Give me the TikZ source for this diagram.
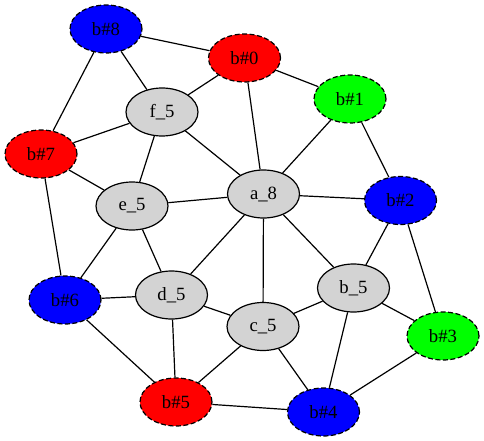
\documentclass[tikz,border=0pt]{standalone}
\usepackage{fontspec}
\setmainfont{Liberation Serif}
\usetikzlibrary{shapes.geometric}
\definecolor{gvblue}{RGB}{0,0,255}
\definecolor{gvred}{RGB}{255,0,0}
\definecolor{gvgreen}{RGB}{0,255,0}
\definecolor{gvgray}{RGB}{211,211,211}
\tikzset{
  vnode/.style={ellipse, draw=black, line width=1.2pt, minimum width=72pt, minimum height=48pt, inner sep=0pt, font=\fontsize{18.7}{20}\selectfont},
  gnode/.style={vnode, fill=gvgray},
  bnode/.style={vnode, dash pattern=on 5pt off 2.5pt},
  edge/.style={draw=black, line width=1.2pt}
}
\begin{document}
\begin{tikzpicture}[x=1pt, y=-1pt]
\useasboundingbox (0,0) rectangle (484,441);
\node[bnode, fill=gvblue] (b8) at (106,29) {b\#8};
\node[bnode, fill=gvred] (b0) at (244.5,58) {b\#0};
\node[bnode, fill=gvgreen] (b1) at (350,99) {b\#1};
\node[gnode] (f5) at (162,112) {f\_5};
\node[bnode, fill=gvred] (b7) at (41,154) {b\#7};
\node[gnode] (a8) at (263.5,194) {a\_8};
\node[gnode] (e5) at (132,206) {e\_5};
\node[bnode, fill=gvblue] (b2) at (400.5,200.5) {b\#2};
\node[bnode, fill=gvblue] (b6) at (65,300) {b\#6};
\node[gnode] (d5) at (171.5,295) {d\_5};
\node[gnode] (b5) at (353.5,288) {b\_5};
\node[gnode] (c5) at (263,326.5) {c\_5};
\node[bnode, fill=gvgreen] (b3) at (443,336) {b\#3};
\node[bnode, fill=gvred] (bf) at (176,402) {b\#5};
\node[bnode, fill=gvblue] (b4) at (323.5,412) {b\#4};
\foreach \u/\v in {b8/b0, b8/f5, b8/b7, b0/f5, b0/b1, b0/a8, b1/a8, b1/b2,
  f5/b7, f5/a8, f5/e5, b7/e5, b7/b6, e5/a8, e5/b6, e5/d5, a8/b2, a8/d5,
  a8/c5, a8/b5, b2/b5, b2/b3, b6/d5, b6/bf, d5/c5, d5/bf, b5/c5, b5/b3,
  b5/b4, c5/bf, c5/b4, b3/b4, bf/b4}
  \draw[edge] (\u) -- (\v);
\end{tikzpicture}
\end{document}
